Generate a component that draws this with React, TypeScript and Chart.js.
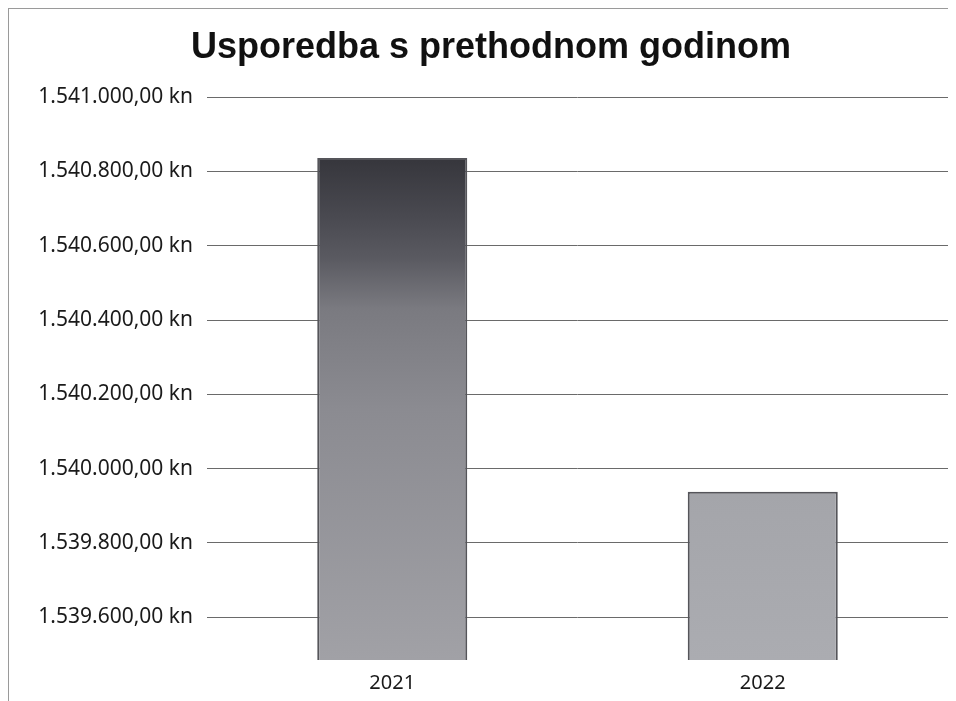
import React, { useEffect, useRef } from "react";
import { Chart, registerables } from "chart.js";

Chart.register(...registerables);

const TITLE = "Usporedba s prethodnom godinom";
const CATEGORIES = ["2021", "2022"];
const VALUES = [1540836, 1539938];
const TICK_VALUES = [1539600, 1539800, 1540000, 1540200, 1540400, 1540600, 1540800, 1541000];
const AXIS_MIN = 1539485;
const AXIS_MAX = 1541000;

function formatKn(v: number): string {
  const neg = v < 0;
  const abs = Math.abs(v);
  const intPart = Math.floor(abs);
  const dec = Math.round((abs - intPart) * 100);
  const intStr = String(intPart).replace(/\B(?=(\d{3})+(?!\d))/g, ".");
  return (neg ? "-" : "") + intStr + "," + String(dec).padStart(2, "0") + " kn";
}

export default function App() {
  const ref = useRef<HTMLCanvasElement | null>(null);

  useEffect(() => {
    const canvas = ref.current;
    if (!canvas) return;

    const fill = (c: any) => {
      const chart = c.chart;
      const area = chart.chartArea;
      if (!area) return "#888";
      const g = chart.ctx;
      const y = chart.scales.y;
      const v = VALUES[c.dataIndex];
      const top = y.getPixelForValue(v);
      const bottom = area.bottom;
      const grad = g.createLinearGradient(0, top, 0, bottom);
      if (c.dataIndex === 0) {
        grad.addColorStop(0, "#36363c");
        grad.addColorStop(0.12, "#4a4a51");
        grad.addColorStop(0.2, "#5a5a61");
        grad.addColorStop(0.3, "#7a7a80");
        grad.addColorStop(0.5, "#8b8b91");
        grad.addColorStop(1, "#a1a1a6");
      } else {
        grad.addColorStop(0, "#a4a5aa");
        grad.addColorStop(1, "#abacb1");
      }
      return grad;
    };

    const chart = new Chart(canvas, {
      type: "bar",
      data: {
        labels: CATEGORIES,
        datasets: [
          {
            label: TITLE,
            data: VALUES,
            backgroundColor: fill as any,
            borderColor: "#55555a",
            borderWidth: 2,
            borderSkipped: false,
            barPercentage: 0.405,
            categoryPercentage: 1,
          },
        ],
      },
      options: {
        responsive: false,
        animation: false,
        layout: { padding: { top: 0, right: 8, bottom: 7, left: 25 } },
        plugins: {
          legend: { display: false },
          tooltip: { enabled: false },
          title: {
            display: true,
            text: TITLE,
            color: "#111111",
            font: { family: "'Liberation Sans', Arial, sans-serif", size: 36, weight: "bold", lineHeight: 1.2 },
            padding: { top: 17, bottom: 28 },
          },
        },
        scales: {
          x: {
            grid: { display: false, drawTicks: false },
            border: { display: false },
            ticks: {
              color: "#1a1a1a",
              padding: 11,
              font: { family: "'Noto Sans', sans-serif", size: 20 },
            },
          },
          y: {
            min: AXIS_MIN,
            max: AXIS_MAX,
            grid: { color: "#6a6a6a", lineWidth: 1, drawTicks: false },
            border: { display: false },
            afterBuildTicks: (scale: any) => {
              scale.ticks = TICK_VALUES.map((v) => ({ value: v }));
            },
            afterFit: (scale: any) => {
              scale.width = 173;
            },
            ticks: {
              color: "#1a1a1a",
              padding: 14,
              font: { family: "'Noto Sans', sans-serif", size: 21 },
              callback: (v: any) => formatKn(Number(v)),
            },
          },
        },
      },
    });

    return () => chart.destroy();
  }, []);

  return (
    <div
      style={{
        width: 948,
        height: 693,
        boxSizing: "border-box",
        borderTop: "1px solid #9a9a9a",
        borderLeft: "1px solid #9a9a9a",
        overflow: "hidden",
      }}
    >
      <canvas ref={ref} width={947} height={704} style={{ display: "block" }} />
    </div>
  );
}
